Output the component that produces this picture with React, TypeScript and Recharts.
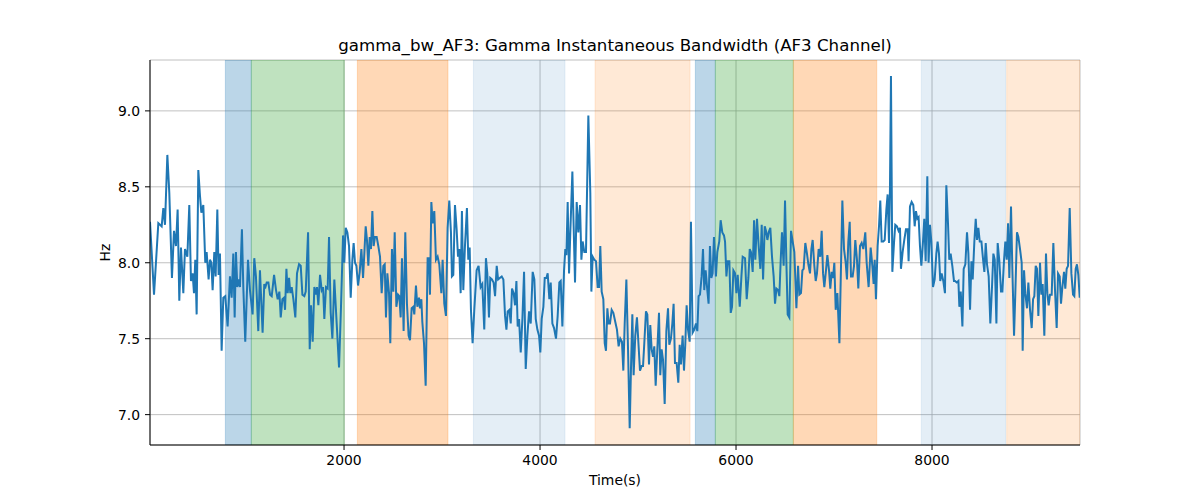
import React from 'react';
import { LineChart, Line, XAxis, YAxis, CartesianGrid, ReferenceArea } from 'recharts';

// gamma bandwidth readings, [time (s), Hz], split by stretch of the recording
const seg1: [number, number][] = [
  [20, 8.27], [61, 7.79], [105, 8.26], [139, 8.24], [156, 8.36], [173, 8.25], [197, 8.71], [217, 8.46],
  [244, 7.9], [265, 8.21], [285, 8.11], [302, 8.35], [319, 7.75], [336, 8.1], [360, 7.8], [377, 8.09],
  [401, 8.04], [421, 8.38], [438, 7.88], [455, 7.93], [469, 7.8], [482, 8.02], [496, 7.66], [513, 8.61],
  [530, 8.44], [544, 8.33], [564, 8.38], [584, 8.0], [598, 8.07], [618, 7.89], [632, 8.02], [646, 8.0],
  [659, 7.82], [676, 8.07], [690, 7.91], [707, 8.35], [720, 7.92], [734, 8.06], [751, 7.42], [768, 7.77],
  [788, 7.78], [812, 7.58], [836, 7.91], [853, 7.77], [870, 8.06], [884, 7.64], [897, 8.07], [911, 7.84],
  [924, 7.89], [938, 7.84], [958, 8.22], [972, 7.84], [992, 7.48], [1020, 8.02], [1040, 7.82], [1067, 7.66],
  [1084, 8.03], [1101, 7.91], [1125, 7.55], [1142, 7.95], [1169, 7.54], [1186, 7.86],
];

const seg2: [number, number][] = [
  [1194, 7.83], [1211, 7.87], [1228, 7.87], [1245, 7.79], [1262, 7.78], [1286, 7.92], [1306, 7.82], [1323, 7.76],
  [1340, 7.81], [1354, 7.64], [1371, 7.76], [1388, 7.77], [1398, 7.69], [1412, 7.96], [1425, 7.8], [1439, 7.9],
  [1452, 7.8], [1466, 7.84], [1483, 7.76], [1503, 7.64], [1520, 7.93], [1541, 7.99], [1558, 7.98], [1575, 7.79],
  [1595, 7.78], [1609, 7.81], [1633, 8.2], [1650, 7.43], [1663, 7.72], [1680, 7.48], [1697, 7.84], [1711, 7.79],
  [1724, 7.84], [1738, 7.72], [1755, 7.92], [1772, 7.82], [1786, 7.84], [1799, 7.63], [1816, 7.84], [1833, 7.83],
  [1847, 8.17], [1864, 7.67], [1881, 7.5], [1901, 7.89], [1925, 7.6], [1949, 7.31], [1969, 7.71], [1990, 8.18],
  [2003, 8.0], [2017, 8.23], [2034, 8.2], [2051, 8.11], [2068, 7.77], [2085, 8.02], [2098, 8.13], [2112, 8.0],
  [2126, 7.98], [2143, 7.85], [2160, 7.94], [2177, 8.09], [2194, 7.9], [2207, 8.06], [2221, 8.24], [2234, 8.15],
  [2248, 7.98], [2262, 8.17], [2275, 8.09], [2289, 8.34], [2302, 8.11], [2316, 8.17], [2333, 8.17], [2350, 8.11],
];

const seg3: [number, number][] = [
  [2367, 8.04], [2384, 7.8], [2401, 7.98], [2415, 7.99], [2428, 7.64], [2442, 7.93], [2459, 7.8], [2472, 7.47],
  [2489, 8.09], [2503, 7.81], [2517, 8.2], [2534, 7.71], [2551, 7.79], [2564, 7.78], [2578, 7.64], [2591, 8.03],
  [2608, 7.55], [2625, 8.2], [2642, 7.73], [2659, 7.52], [2673, 7.49], [2690, 7.7], [2707, 7.71], [2717, 7.66],
  [2734, 7.85], [2748, 7.71], [2765, 7.77], [2775, 7.7], [2789, 7.76], [2799, 7.61], [2816, 7.47], [2833, 7.19],
  [2853, 8.03], [2867, 8.03], [2877, 7.79], [2891, 8.4], [2904, 8.26], [2921, 8.34], [2938, 8.02], [2955, 8.04],
  [2972, 7.99], [2993, 7.8], [3006, 8.02], [3023, 7.73], [3040, 7.65], [3057, 8.23], [3074, 8.41], [3091, 8.2],
  [3101, 7.91], [3115, 7.92], [3132, 8.38], [3149, 8.22], [3163, 8.04], [3176, 8.09], [3190, 7.8], [3203, 8.34],
  [3217, 7.82], [3234, 8.11], [3254, 8.36], [3268, 8.02], [3282, 8.1], [3295, 7.69], [3312, 7.47], [3329, 7.69],
  [3353, 7.95], [3373, 7.98], [3394, 7.84], [3411, 7.86], [3431, 7.56], [3448, 8.03], [3462, 7.93], [3479, 7.64],
  [3492, 7.9], [3509, 7.89], [3526, 7.87],
];

const seg4: [number, number][] = [
  [3541, 7.78], [3558, 7.98], [3572, 7.89], [3589, 7.9], [3609, 7.91], [3626, 7.89], [3643, 7.65], [3657, 7.56],
  [3670, 7.68], [3687, 7.69], [3701, 7.6], [3714, 7.83], [3731, 7.8], [3745, 7.72], [3759, 7.88], [3772, 7.58],
  [3786, 7.63], [3803, 7.41], [3820, 7.63], [3837, 7.94], [3854, 7.3], [3871, 7.52], [3888, 7.68], [3905, 7.6],
  [3925, 7.94], [3942, 7.89], [3956, 7.63], [3973, 7.56], [3990, 7.52], [4003, 7.41], [4017, 7.63], [4034, 7.71],
  [4048, 7.9], [4065, 7.9], [4078, 7.93], [4095, 7.76], [4109, 7.87], [4126, 7.6], [4143, 7.57], [4163, 7.5],
  [4180, 7.65], [4197, 7.87], [4211, 7.88], [4228, 7.58], [4245, 7.95], [4258, 8.09], [4269, 8.05], [4282, 8.4],
  [4296, 7.93], [4309, 8.2], [4330, 8.6], [4343, 8.24], [4357, 7.87], [4374, 8.4], [4391, 8.2], [4408, 8.38],
  [4422, 8.02], [4435, 8.14], [4452, 8.07], [4469, 8.07], [4493, 8.97], [4513, 8.46], [4524, 7.81], [4537, 8.04],
  [4554, 8.02], [4571, 8.01], [4588, 7.84], [4602, 7.84], [4615, 8.11], [4629, 7.81], [4646, 7.76], [4660, 7.47],
  [4673, 7.42], [4687, 7.7], [4700, 7.6],
];

const seg5: [number, number][] = [
  [4714, 7.6], [4731, 7.69], [4748, 7.67], [4768, 7.61], [4785, 7.56], [4802, 7.45], [4819, 7.5], [4836, 7.48],
  [4850, 7.29], [4864, 7.6], [4881, 7.89], [4898, 7.43], [4915, 6.91], [4928, 7.3], [4942, 7.66], [4955, 7.26],
  [4972, 7.52], [4989, 7.64], [5006, 7.45], [5020, 7.29], [5037, 7.32], [5051, 7.32], [5064, 7.47], [5081, 7.68],
  [5095, 7.66], [5112, 7.33], [5125, 7.59], [5139, 7.43], [5153, 7.38], [5166, 7.45], [5180, 7.19], [5197, 7.43],
  [5214, 7.67], [5227, 7.26], [5241, 7.43], [5255, 7.36], [5272, 7.07], [5289, 7.55], [5306, 7.7], [5319, 7.46],
  [5336, 7.5], [5350, 7.6], [5363, 7.73], [5377, 7.34], [5394, 7.34], [5411, 7.21], [5425, 7.46], [5438, 7.33],
  [5455, 7.52], [5469, 7.29], [5482, 7.46], [5496, 7.72], [5510, 7.56], [5527, 7.48], [5540, 8.27], [5557, 7.54],
  [5574, 7.56], [5591, 7.6], [5605, 7.55], [5618, 7.78], [5632, 7.79], [5649, 7.91], [5663, 8.09], [5676, 7.82],
  [5690, 7.95], [5707, 7.82], [5720, 7.73], [5734, 8.11], [5748, 7.9], [5761, 7.93], [5775, 8.17], [5795, 7.91],
  [5809, 8.07], [5829, 8.14], [5843, 8.28], [5860, 8.2], [5877, 8.18],
];

const seg6: [number, number][] = [
  [5888, 8.14], [5902, 7.91], [5915, 8.01], [5932, 8.01], [5946, 7.67], [5959, 7.71], [5973, 7.95], [5990, 7.93],
  [6004, 7.8], [6017, 7.92], [6038, 7.71], [6055, 7.91], [6068, 8.04], [6092, 8.03], [6109, 7.76], [6126, 7.9],
  [6140, 8.09], [6153, 8.07], [6170, 7.94], [6184, 8.28], [6197, 8.02], [6214, 8.29], [6231, 8.11], [6248, 7.96],
  [6262, 8.25], [6276, 7.89], [6293, 8.24], [6306, 8.21], [6320, 8.15], [6333, 8.2], [6350, 8.23], [6367, 8.04],
  [6384, 7.91], [6398, 7.73], [6412, 7.83], [6429, 7.82], [6442, 7.78], [6456, 8.02], [6469, 8.2], [6486, 7.98],
  [6500, 8.41], [6514, 8.0], [6527, 7.66], [6544, 7.64], [6561, 8.21], [6578, 8.14], [6595, 8.07], [6616, 7.7],
  [6633, 7.98], [6646, 7.79], [6663, 7.8], [6677, 7.95], [6690, 7.96], [6707, 8.13], [6724, 8.06], [6738, 7.99],
  [6755, 7.93], [6769, 8.09], [6782, 8.15], [6799, 7.98], [6813, 7.88], [6826, 7.93], [6843, 8.09], [6860, 8.04],
  [6874, 8.21], [6888, 7.93], [6901, 7.84], [6918, 7.95], [6932, 8.05], [6949, 7.95], [6962, 7.83], [6976, 7.94],
  [6990, 7.9], [7003, 8.0], [7017, 7.69], [7034, 7.8], [7055, 7.47],
];

const seg7: [number, number][] = [
  [7085, 8.41], [7102, 8.09], [7119, 8.0], [7132, 7.89], [7146, 8.14], [7160, 8.27], [7173, 7.91], [7190, 7.91],
  [7204, 7.98], [7217, 8.15], [7234, 8.02], [7248, 7.83], [7265, 8.11], [7282, 8.13], [7299, 8.09], [7319, 8.2],
  [7333, 8.0], [7353, 7.84], [7374, 8.1], [7391, 7.98], [7404, 7.86], [7415, 8.02], [7428, 7.76], [7445, 8.11],
  [7459, 8.24], [7472, 8.41], [7486, 8.14], [7503, 8.14], [7517, 8.15], [7534, 8.35], [7547, 8.45], [7561, 8.13],
  [7571, 8.5], [7581, 9.23], [7595, 7.94], [7612, 8.13], [7625, 8.25], [7642, 8.24], [7659, 8.21], [7673, 8.23],
  [7683, 7.96], [7700, 8.07], [7717, 8.15], [7734, 8.22], [7751, 8.22], [7761, 8.01], [7775, 8.37], [7792, 8.4],
  [7809, 8.38], [7823, 8.24], [7836, 8.34], [7850, 8.29], [7863, 8.3], [7877, 8.11], [7891, 7.98], [7908, 8.14],
  [7921, 8.29], [7935, 8.01], [7952, 8.57], [7965, 8.0], [7979, 8.25], [7993, 8.14], [8010, 7.84], [8027, 7.89],
  [8044, 8.06], [8057, 8.14], [8071, 8.06], [8084, 7.88], [8098, 7.93], [8115, 7.88], [8132, 7.8], [8146, 8.51],
  [8163, 8.26], [8176, 8.02], [8190, 8.06], [8207, 7.98], [8224, 7.88],
];

const seg8: [number, number][] = [
  [8235, 7.88], [8252, 7.87], [8269, 7.88], [8279, 7.71], [8293, 7.81], [8310, 7.58], [8323, 7.96], [8340, 7.99],
  [8357, 8.2], [8371, 8.06], [8388, 7.69], [8402, 8.01], [8415, 7.89], [8432, 8.14], [8446, 8.29], [8459, 8.15],
  [8473, 8.23], [8487, 8.14], [8504, 8.14], [8521, 8.02], [8534, 7.94], [8548, 8.13], [8561, 7.99], [8578, 7.91],
  [8595, 7.6], [8612, 7.84], [8626, 8.06], [8640, 8.02], [8657, 7.6], [8670, 8.13], [8687, 8.01], [8704, 7.81],
  [8718, 7.81], [8735, 8.02], [8748, 8.14], [8762, 8.02], [8776, 8.26], [8789, 7.9], [8806, 8.37], [8820, 7.95],
  [8837, 7.52], [8850, 7.8], [8867, 8.2], [8881, 8.17], [8898, 8.09], [8915, 8.0], [8925, 7.42], [8939, 7.95],
  [8952, 7.8], [8969, 7.7], [8983, 7.87], [9000, 7.69], [9017, 7.57], [9031, 7.76], [9044, 7.78], [9058, 7.98],
  [9071, 7.96], [9085, 7.65], [9102, 8.0], [9116, 7.79], [9129, 7.86], [9146, 7.52], [9163, 8.06], [9177, 7.8],
  [9190, 7.72], [9204, 7.79], [9221, 7.79], [9238, 8.13], [9255, 7.82], [9272, 7.57], [9286, 7.93], [9303, 7.91],
  [9316, 7.73], [9330, 7.84], [9347, 7.94], [9360, 7.83], [9374, 7.96], [9388, 7.98], [9405, 8.36], [9422, 7.93],
  [9439, 7.79], [9452, 7.78], [9466, 7.96], [9479, 7.99], [9493, 7.92], [9507, 7.77],
];

// shaded state intervals (start, end, colour, alpha)
const bandStarts = [789, 1054, 2136, 3320, 4561, 5585, 5789, 6585, 7891, 8762];
const bandEnds = [1054, 2003, 3061, 4255, 5531, 5789, 6585, 7436, 8752, 9510];
const bandColors = ['#1f77b4', '#2ca02c', '#ff7f0e', '#1f77b4', '#ff7f0e', '#1f77b4', '#2ca02c', '#ff7f0e', '#1f77b4', '#ff7f0e'];
const bandAlphas = [0.3, 0.3, 0.3, 0.12, 0.17, 0.3, 0.3, 0.3, 0.12, 0.17];

const xTicks = [2000, 4000, 6000, 8000];
const yTicks = [7.0, 7.5, 8.0, 8.5, 9.0];

const data = [...seg1, ...seg2, ...seg3, ...seg4, ...seg5, ...seg6, ...seg7, ...seg8].map(([t, v]) => ({ t, v }));

const font = 'DejaVu Sans, sans-serif';
const tickStyle = { fontSize: 13.9, fill: '#000', fontFamily: font };

const App: React.FC = () => {
  return (
    <div style={{ position: 'relative', width: 1200, height: 500, background: '#fff', fontFamily: font }}>
      <style>{'body { margin: 0; }'}</style>
      <div
        style={{
          position: 'absolute',
          top: 36,
          left: 150,
          width: 930,
          textAlign: 'center',
          fontSize: 16.67,
          lineHeight: '20px',
          color: '#000',
        }}
      >
        gamma_bw_AF3: Gamma Instantaneous Bandwidth (AF3 Channel)
      </div>
      <LineChart width={1200} height={500} data={data} margin={{ top: 60, right: 120, left: 90, bottom: 10 }}>
        <CartesianGrid stroke="#b0b0b0" strokeWidth={0.8} />
        {bandStarts.map((s, i) => (
          <ReferenceArea
            key={i}
            x1={s}
            x2={bandEnds[i]}
            fill={bandColors[i]}
            fillOpacity={bandAlphas[i]}
            stroke={bandColors[i]}
            strokeOpacity={bandAlphas[i] * 0.8}
            ifOverflow="hidden"
          />
        ))}
        <XAxis
          dataKey="t"
          type="number"
          domain={[20, 9510]}
          ticks={xTicks}
          allowDataOverflow
          height={45}
          tick={tickStyle}
          tickSize={5}
          tickMargin={5}
          tickLine={{ stroke: '#000' }}
          axisLine={{ stroke: '#000' }}
          label={{ value: 'Time(s)', position: 'insideBottom', offset: 5, style: { fontSize: 13.9, fill: '#000', fontFamily: font } }}
        />
        <XAxis xAxisId="top" orientation="top" type="number" domain={[20, 9510]} height={0} tick={false} tickLine={false} axisLine={{ stroke: '#000' }} />
        <YAxis
          type="number"
          domain={[6.8, 9.335]}
          ticks={yTicks}
          allowDataOverflow
          width={60}
          tick={tickStyle}
          tickSize={5}
          tickMargin={5}
          tickFormatter={(v: number) => v.toFixed(1)}
          tickLine={{ stroke: '#000' }}
          axisLine={{ stroke: '#000' }}
          label={{ value: 'Hz', angle: -90, position: 'insideLeft', offset: 15, style: { fontSize: 13.9, fill: '#000', fontFamily: font, textAnchor: 'middle' } }}
        />
        <YAxis yAxisId="right" orientation="right" width={0} tick={false} tickLine={false} axisLine={{ stroke: '#000' }} />
        <Line type="linear" dataKey="v" stroke="#1f77b4" strokeWidth={2} dot={false} isAnimationActive={false} />
      </LineChart>
    </div>
  );
};

export default App;
